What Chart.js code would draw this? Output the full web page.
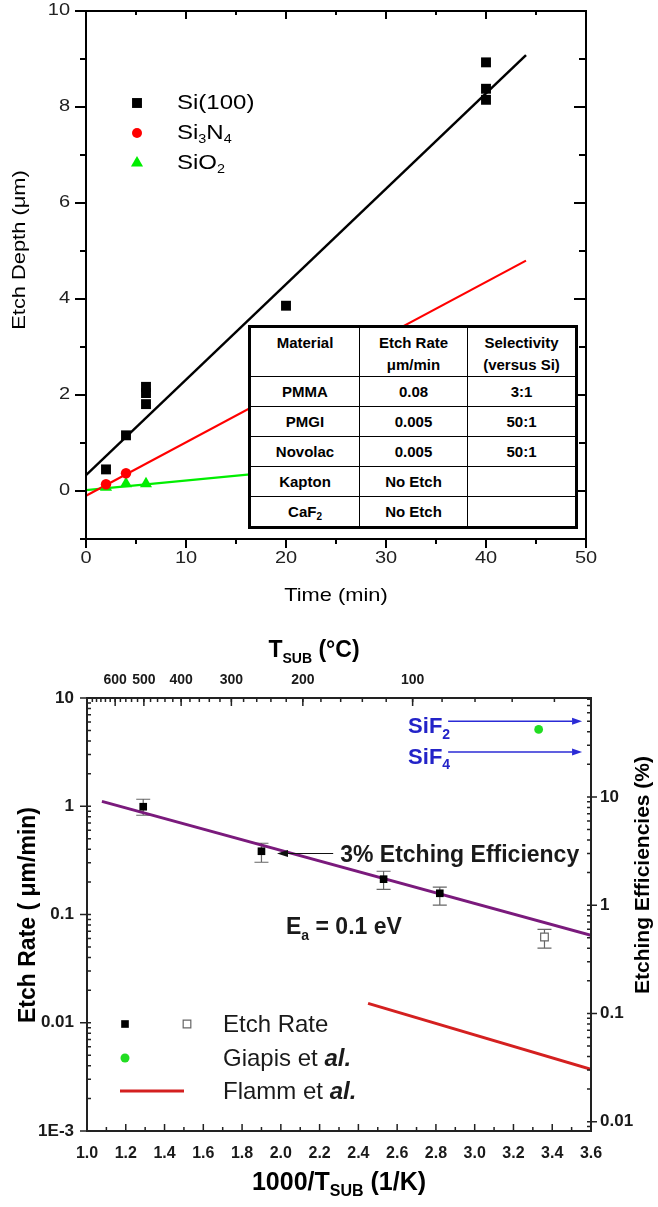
<!DOCTYPE html>
<html>
<head>
<meta charset="utf-8">
<title>Etch depth and etch rate</title>
<script src="https://cdn.jsdelivr.net/npm/chart.js@4.4.1/dist/chart.umd.min.js"></script>
<style>
  html, body { margin: 0; padding: 0; background: #fff; }
  body { position: relative; width: 658px; height: 1207px; overflow: hidden; }
  canvas { position: absolute; left: 0; display: block; }
  #depthChart { top: 0; }
  #rateChart  { top: 620px; }

  /* selectivity table sits on top of the depth plot */
  #selTable {
    position: absolute; left: 248px; top: 325px;
    border-collapse: collapse; background: #fff;
    border: 3px solid #000;
    font: bold 15px "Liberation Sans", Arial, sans-serif; color: #000;
  }
  #selTable td { border: 1.5px solid #000; padding: 0; text-align: center; height: 29px; }
  #selTable td:nth-child(1) { width: 108px; }
  #selTable td:nth-child(2) { width: 107px; }
  #selTable td:nth-child(3) { width: 107px; }
  #selTable tr.head td { height: 44px; vertical-align: top; padding-top: 4px; line-height: 22px; }
  #selTable sub { font-size: 10px; vertical-align: -3px; line-height: 0; }
</style>
</head>
<body>
<canvas id="depthChart" width="658" height="620"></canvas>
<canvas id="rateChart" width="658" height="587"></canvas>
<table id="selTable"></table>

<script>
'use strict';

const FONT = '"Liberation Sans", Arial, Helvetica, sans-serif';

/* ═══════════════════════════════════════════════
 *  Etch depth vs. time
 * ═══════════════════════════════════════════════ */
const siTime     = [2, 4, 6, 6, 6, 20, 40, 40, 40];
const siDepth    = [0.45, 1.16, 1.81, 2.04, 2.17, 3.86, 8.93, 8.38, 8.15];
const nitTime    = [2, 4];
const nitDepth   = [0.14, 0.37];
const oxTime     = [2, 4, 6];
const oxDepth    = [0.08, 0.15, 0.15];
// straight-line fits, [time, depth] end points
const siFit      = [[0, 0.33], [44, 9.08]];
const nitFit     = [[0, -0.10], [44, 4.80]];
const oxFit      = [[0, 0.02], [44, 0.90]];
const timeTicks  = [0, 10, 20, 30, 40, 50];
const depthTicks = [0, 2, 4, 6, 8, 10];

/* Selectivity table */
const tableHead   = ['Material', 'Etch Rate<br>μm/min', 'Selectivity<br>(versus Si)'];
const materials   = ['PMMA', 'PMGI', 'Novolac', 'Kapton', 'CaF<sub>2</sub>'];
const etchRates   = ['0.08', '0.005', '0.005', 'No Etch', 'No Etch'];
const selectivity = ['3:1', '50:1', '50:1', '', ''];

/* ═══════════════════════════════════════════════
 *  Etch rate vs. 1000/T (Arrhenius)
 * ═══════════════════════════════════════════════ */
const invTemp       = [1.29, 1.90, 2.53, 2.82];
const etchRate      = [0.99, 0.384, 0.212, 0.157];
const rateLow       = [0.826, 0.304, 0.171, 0.122];
const rateHigh      = [1.16, 0.455, 0.251, 0.179];
const invTempOpen   = [3.36];
const etchRateOpen  = [0.062];
const rateLowOpen   = [0.049];
const rateHighOpen  = [0.073];
const giapisInvTemp = [3.33];
const giapisEff     = [42];            // %
const arrFit        = [[1.077, 1.11], [3.6, 0.0643]];
const flammFit      = [[2.45, 0.0151], [3.6, 0.00372]];
const sifLabels     = ['SiF_{2}', 'SiF_{4}'];
const sifEff        = [50, 26];        // %
const sifSpan       = [2.863, 3.554];  // 1000/T range of the arrows
const effMark       = { eff: 3, from: 2.27, to: 1.98, text: '3% Etching Efficiency' };
const tempC         = [600, 500, 400, 300, 200, 100];
const rateDecades   = [0.001, 0.01, 0.1, 1, 10];
const effDecades    = [0.01, 0.1, 1, 10];

const xy  = (xs, ys) => xs.map((x, i) => ({ x, y: ys[i] }));
const seg = pts => pts.map(([x, y]) => ({ x, y }));
const toInv = t => 1000 / (t + 273.15);

/* ── text helpers ───────────────────────────── */
// 'T_{SUB}' -> subscript, '*al.*' -> italic
function parseRich(str) {
  const out = [];
  const re = /_\{([^}]*)\}|\*([^*]*)\*/g;
  let last = 0, m;
  while ((m = re.exec(str))) {
    if (m.index > last) out.push({ t: str.slice(last, m.index), k: 'n' });
    out.push(m[1] !== undefined ? { t: m[1], k: 'sub' } : { t: m[2], k: 'it' });
    last = re.lastIndex;
  }
  if (last < str.length) out.push({ t: str.slice(last), k: 'n' });
  return out;
}

function drawRich(ctx, str, x, y, o) {
  const segs = parseRich(str);
  const fontFor = k => {
    const size = k === 'sub' ? Math.round(o.size * 0.62) : o.size;
    const weight = (k === 'it' && o.italicBold) ? 'bold' : (o.weight || 'normal');
    return (k === 'it' ? 'italic ' : '') + weight + ' ' + size + 'px ' + FONT;
  };
  let w = 0;
  segs.forEach(s => { ctx.font = fontFor(s.k); s.w = ctx.measureText(s.t).width; w += s.w; });
  ctx.save();
  ctx.translate(x, y);
  if (o.rotate) ctx.rotate(o.rotate);
  if (o.sx) ctx.scale(o.sx, 1);
  let cx = o.align === 'left' ? 0 : o.align === 'right' ? -w : -w / 2;
  ctx.fillStyle = o.color || '#000';
  ctx.textAlign = 'left';
  ctx.textBaseline = 'middle';
  segs.forEach(s => {
    ctx.font = fontFor(s.k);
    ctx.fillText(s.t, cx, s.k === 'sub' ? o.size * 0.34 : 0);
    cx += s.w;
  });
  ctx.restore();
}

// tick marks along a scale; edge = pixel of the axis line, dir = +1/-1
function tickMarks(ctx, scale, values, edge, dir, len) {
  ctx.beginPath();
  values.forEach(v => {
    const p = scale.getPixelForValue(v);
    if (scale.isHorizontal()) { ctx.moveTo(p, edge); ctx.lineTo(p, edge + dir * len); }
    else { ctx.moveTo(edge, p); ctx.lineTo(edge + dir * len, p); }
  });
  ctx.stroke();
}

function arrow(ctx, x0, y0, x1, y1, head, half, color, width) {
  const a = Math.atan2(y1 - y0, x1 - x0), c = Math.cos(a), s = Math.sin(a);
  ctx.save();
  ctx.strokeStyle = color; ctx.fillStyle = color; ctx.lineWidth = width;
  ctx.beginPath(); ctx.moveTo(x0, y0); ctx.lineTo(x1 - c * head, y1 - s * head); ctx.stroke();
  ctx.beginPath();
  ctx.moveTo(x1, y1);
  ctx.lineTo(x1 - c * head + s * half, y1 - s * head - c * half);
  ctx.lineTo(x1 - c * head - s * half, y1 - s * head + c * half);
  ctx.closePath(); ctx.fill();
  ctx.restore();
}

function marker(ctx, style, x, y) {
  Chart.helpers.drawPoint(ctx, style, x, y);
}

const range = (a, b, step) => { const r = []; for (let v = a; v <= b + 1e-9; v += step) r.push(+v.toFixed(4)); return r; };
const logMinors = (lo, hi) => {
  const r = [];
  for (let d = -4; d <= 3; d++) for (let k = 2; k <= 9; k++) { const v = k * Math.pow(10, d); if (v > lo && v < hi) r.push(v); }
  return r;
};

/* ═══════════════════════════════════════════════
 *  Depth chart
 * ═══════════════════════════════════════════════ */
const SX = 1.25;  // wide lettering on this panel

const depthFrame = {
  id: 'depthFrame',
  afterDraw(chart) {
    const { ctx, chartArea: ca, scales: { x, y } } = chart;
    ctx.save();
    ctx.strokeStyle = '#000';
    ctx.lineWidth = 2;
    ctx.strokeRect(ca.left, ca.top, ca.right - ca.left, ca.bottom - ca.top);

    const tMajor = timeTicks, tMinor = range(5, 45, 10);
    tickMarks(ctx, x, tMajor, ca.bottom, 1, 9);
    tickMarks(ctx, x, tMinor, ca.bottom, 1, 5);
    tickMarks(ctx, x, tMajor.slice(1, -1), ca.top, 1, 8);
    tickMarks(ctx, x, tMinor, ca.top, 1, 4);
    const dAll = range(-1, 10, 1);
    const dMajor = dAll.filter(v => v % 2 === 0), dMinor = dAll.filter(v => v % 2 !== 0);
    tickMarks(ctx, y, dMajor, ca.left, -1, 11);
    tickMarks(ctx, y, dMinor, ca.left, -1, 6);
    tickMarks(ctx, y, dMajor, ca.right, -1, 12);
    tickMarks(ctx, y, dMinor, ca.right, -1, 7);

    // tick labels
    timeTicks.forEach(v => drawRich(ctx, String(v), x.getPixelForValue(v), ca.bottom + 20,
      { size: 16, color: '#222', sx: SX }));
    depthTicks.forEach(v => drawRich(ctx, String(v), ca.left - 16, y.getPixelForValue(v),
      { size: 16, color: '#222', sx: SX, align: 'right' }));

    // axis titles
    drawRich(ctx, 'Time (min)', (ca.left + ca.right) / 2, 596, { size: 19, sx: 1.15 });
    drawRich(ctx, 'Etch Depth (μm)', 20, 250, { size: 19, sx: 1.15, rotate: -Math.PI / 2 });

    // legend
    const rows = [
      { name: 'Si(100)', style: { pointStyle: 'rect', radius: 7, backgroundColor: '#000', borderWidth: 0 } },
      { name: 'Si_{3}N_{4}', style: { pointStyle: 'circle', radius: 5, backgroundColor: '#ff0000', borderWidth: 0 } },
      { name: 'SiO_{2}', style: { pointStyle: 'triangle', radius: 7, backgroundColor: '#00ee00', borderWidth: 0 } },
    ];
    rows.forEach((r, i) => {
      const ly = 103 + i * 30;
      ctx.fillStyle = r.style.backgroundColor;
      marker(ctx, r.style, 137, ly);
      drawRich(ctx, r.name, 177, ly, { size: 20, sx: 1.2, align: 'left' });
    });
    ctx.restore();
  }
};

new Chart(document.getElementById('depthChart'), {
  type: 'scatter',
  data: {
    datasets: [
      { label: 'Si(100)', data: xy(siTime, siDepth), pointStyle: 'rect', pointRadius: 7,
        backgroundColor: '#000', borderWidth: 0, order: 0 },
      { label: 'Si3N4', data: xy(nitTime, nitDepth), pointStyle: 'circle', pointRadius: 5.2,
        backgroundColor: '#ff0000', borderWidth: 0, order: 0 },
      { label: 'SiO2', data: xy(oxTime, oxDepth), pointStyle: 'triangle', pointRadius: 7,
        backgroundColor: '#00ee00', borderWidth: 0, order: 0 },
      { label: 'Si fit', data: seg(siFit), showLine: true, pointRadius: 0,
        borderColor: '#000', borderWidth: 2.5, order: 1 },
      { label: 'Si3N4 fit', data: seg(nitFit), showLine: true, pointRadius: 0,
        borderColor: '#ff0000', borderWidth: 2.2, order: 1 },
      { label: 'SiO2 fit', data: seg(oxFit), showLine: true, pointRadius: 0,
        borderColor: '#00ee00', borderWidth: 2.2, order: 1 },
    ],
  },
  options: {
    responsive: false,
    animation: false,
    events: [],
    layout: { padding: { top: 11, right: 72, left: 0, bottom: 0 } },
    plugins: { legend: { display: false }, tooltip: { enabled: false } },
    scales: {
      x: {
        type: 'linear', min: 0, max: 50,
        afterFit: s => { s.height = 81; },
        grid: { display: false, drawTicks: false }, border: { display: false },
        ticks: { display: false },
      },
      y: {
        type: 'linear', min: -1, max: 10,
        afterFit: s => { s.width = 86; },
        grid: { display: false, drawTicks: false }, border: { display: false },
        ticks: { display: false },
      },
    },
  },
  plugins: [depthFrame],
});

// table rows from the arrays above
(function buildTable() {
  const t = document.getElementById('selTable');
  let html = '<tr class="head">' + tableHead.map(h => '<td>' + h + '</td>').join('') + '</tr>';
  materials.forEach((m, i) => {
    html += '<tr><td>' + m + '</td><td>' + etchRates[i] + '</td><td>' + selectivity[i] + '</td></tr>';
  });
  t.innerHTML = html;
})();

/* ═══════════════════════════════════════════════
 *  Arrhenius chart
 * ═══════════════════════════════════════════════ */
const rateFrame = {
  id: 'rateFrame',
  beforeDatasetsDraw(chart) {
    // error bars
    const { ctx, scales: { x, y } } = chart;
    ctx.save();
    ctx.strokeStyle = '#666';
    ctx.lineWidth = 1.2;
    const bars = (xs, lo, hi) => xs.forEach((v, i) => {
      const px = x.getPixelForValue(v), p0 = y.getPixelForValue(lo[i]), p1 = y.getPixelForValue(hi[i]);
      ctx.beginPath();
      ctx.moveTo(px, p0); ctx.lineTo(px, p1);
      ctx.moveTo(px - 7, p0); ctx.lineTo(px + 7, p0);
      ctx.moveTo(px - 7, p1); ctx.lineTo(px + 7, p1);
      ctx.stroke();
    });
    bars(invTemp, rateLow, rateHigh);
    bars(invTempOpen, rateLowOpen, rateHighOpen);
    ctx.restore();
  },
  afterDraw(chart) {
    const { ctx, chartArea: ca, scales: { x, x2, y, y2 } } = chart;
    ctx.save();
    ctx.strokeStyle = '#222';
    ctx.lineWidth = 2;
    ctx.strokeRect(ca.left, ca.top, ca.right - ca.left, ca.bottom - ca.top);

    ctx.lineWidth = 1.5;
    const xs = range(1.0, 3.6, 0.1);
    tickMarks(ctx, x, xs.filter((v, i) => i % 2 === 0), ca.bottom, -1, 7);
    tickMarks(ctx, x, xs.filter((v, i) => i % 2 === 1), ca.bottom, -1, 4);
    const temps = range(20, 700, 20).map(toInv).filter(v => v >= 1 && v <= 3.6);
    tickMarks(ctx, x2, temps, ca.top, 1, 4);
    tickMarks(ctx, x2, tempC.map(toInv), ca.top, 1, 8);
    tickMarks(ctx, y, rateDecades, ca.left, -1, 7);
    tickMarks(ctx, y, rateDecades, ca.left, 1, 4);
    tickMarks(ctx, y, logMinors(0.001, 10), ca.left, 1, 4);
    tickMarks(ctx, y2, effDecades, ca.right, 1, 6);
    tickMarks(ctx, y2, effDecades, ca.right, -1, 4);
    tickMarks(ctx, y2, logMinors(0.0082, 82), ca.right, -1, 4);

    // axis titles
    drawRich(ctx, 'T_{SUB} (°C)', 314, 31, { size: 23, weight: 'bold' });
    drawRich(ctx, '1000/T_{SUB} (1/K)', (ca.left + ca.right) / 2, 563, { size: 25, weight: 'bold' });
    drawRich(ctx, 'Etch Rate ( μm/min)', 29, 295, { size: 23, weight: 'bold', rotate: -Math.PI / 2 });
    drawRich(ctx, 'Etching Efficiencies (%)', 643, 255, { size: 21, weight: 'bold', rotate: -Math.PI / 2 });

    // 3 % efficiency pointer
    const ey = y2.getPixelForValue(effMark.eff);
    const ex0 = x.getPixelForValue(effMark.from), ex1 = x.getPixelForValue(effMark.to);
    arrow(ctx, ex0, ey, ex1, ey, 11, 3.5, '#111', 1.2);
    drawRich(ctx, effMark.text, ex0 + 7, ey + 2, { size: 23, weight: 'bold', align: 'left', color: '#1a1a1a' });
    drawRich(ctx, 'E_{a} = 0.1 eV', 286, 308, { size: 23, weight: 'bold', align: 'left', color: '#1a1a1a' });

    // SiF2 / SiF4 pointers
    sifEff.forEach((v, i) => {
      const py = y2.getPixelForValue(v);
      arrow(ctx, x.getPixelForValue(sifSpan[0]), py, x.getPixelForValue(sifSpan[1]), py, 10, 3.5, '#2b2bd6', 1.5);
      drawRich(ctx, sifLabels[i], x.getPixelForValue(sifSpan[0]) + 2, py + 6,
        { size: 22, weight: 'bold', align: 'right', color: '#2323c8' });
    });

    // legend
    const legendY = [404, 438, 471];
    marker(ctx, { pointStyle: 'rect', radius: 5.4, backgroundColor: '#000', borderWidth: 0 }, 125, legendY[0]);
    ctx.fillStyle = '#fff'; ctx.strokeStyle = '#666'; ctx.lineWidth = 1.2;
    marker(ctx, { pointStyle: 'rect', radius: 5.4, borderWidth: 1.2 }, 187, legendY[0]);
    ctx.fillStyle = '#22dd22';
    marker(ctx, { pointStyle: 'circle', radius: 4.5, borderWidth: 0 }, 125, legendY[1]);
    ctx.strokeStyle = '#d42020'; ctx.lineWidth = 3;
    ctx.beginPath(); ctx.moveTo(120, legendY[2]); ctx.lineTo(184, legendY[2]); ctx.stroke();
    ['Etch Rate', 'Giapis et *al.*', 'Flamm et *al.*'].forEach((t, i) =>
      drawRich(ctx, t, 223, legendY[i] + 1, { size: 24, align: 'left', italicBold: true, color: '#1a1a1a' }));
    ctx.restore();
  }
};

const boldTicks = size => ({ size, weight: 'bold', family: FONT });

new Chart(document.getElementById('rateChart'), {
  type: 'scatter',
  data: {
    datasets: [
      { label: 'Etch Rate', data: xy(invTemp, etchRate), pointStyle: 'rect', pointRadius: 5.4,
        backgroundColor: '#000', borderWidth: 0, order: 0 },
      { label: 'Etch Rate (open)', data: xy(invTempOpen, etchRateOpen), pointStyle: 'rect', pointRadius: 5.4,
        backgroundColor: '#fff', borderColor: '#666', borderWidth: 1.2, order: 0 },
      { label: 'Giapis et al.', data: xy(giapisInvTemp, giapisEff), yAxisID: 'y2', pointStyle: 'circle',
        pointRadius: 4.4, backgroundColor: '#22dd22', borderWidth: 0, order: 0 },
      { label: 'fit', data: seg(arrFit), showLine: true, pointRadius: 0,
        borderColor: '#7a1a7c', borderWidth: 3, order: 1 },
      { label: 'Flamm et al.', data: seg(flammFit), showLine: true, pointRadius: 0,
        borderColor: '#d42020', borderWidth: 3, order: 1 },
    ],
  },
  options: {
    responsive: false,
    animation: false,
    events: [],
    layout: { padding: 0 },
    plugins: { legend: { display: false }, tooltip: { enabled: false } },
    scales: {
      x: {
        type: 'linear', position: 'bottom', min: 1.0, max: 3.6,
        afterFit: s => { s.height = 76; },
        afterBuildTicks: s => { s.ticks = range(1.0, 3.6, 0.2).map(v => ({ value: v })); },
        grid: { display: false, drawTicks: false }, border: { display: false },
        ticks: { padding: 13, font: boldTicks(16), color: '#1a1a1a', maxRotation: 0, autoSkip: false,
                 callback: v => v.toFixed(1) },
      },
      x2: {
        type: 'linear', position: 'top', min: 1.0, max: 3.6,
        afterFit: s => { s.height = 78; },
        afterBuildTicks: s => { s.ticks = tempC.map(t => ({ value: toInv(t) })); },
        grid: { display: false, drawTicks: false }, border: { display: false },
        ticks: { padding: 9, font: boldTicks(14), color: '#1a1a1a', maxRotation: 0, autoSkip: false,
                 callback: v => String(Math.round(1000 / v - 273.15)) },
      },
      y: {
        type: 'logarithmic', position: 'left', min: 0.001, max: 10,
        afterFit: s => { s.width = 87; },
        afterBuildTicks: s => { s.ticks = rateDecades.map(v => ({ value: v })); },
        grid: { display: false, drawTicks: false }, border: { display: false },
        ticks: { padding: 13, font: boldTicks(17), color: '#1a1a1a', autoSkip: false,
                 callback: v => (v === 0.001 ? '1E-3' : String(v)) },
      },
      y2: {
        type: 'logarithmic', position: 'right', min: 0.0082, max: 82,
        afterFit: s => { s.width = 67; },
        afterBuildTicks: s => { s.ticks = effDecades.map(v => ({ value: v })); },
        grid: { display: false, drawTicks: false }, border: { display: false },
        ticks: { padding: 9, font: boldTicks(17), color: '#1a1a1a', autoSkip: false,
                 callback: v => String(v) },
      },
    },
  },
  plugins: [rateFrame],
});
</script>
</body>
</html>
